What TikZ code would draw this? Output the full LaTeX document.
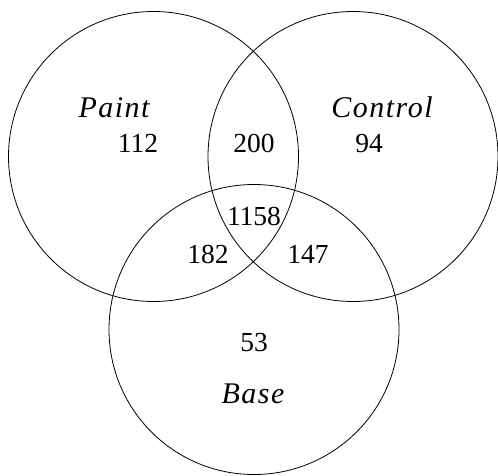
\documentclass[tikz,border=0pt]{standalone}
\usepackage{fontspec}
\setmainfont{Liberation Serif}
\newfontfamily\setlabelfont[LetterSpace=5]{Liberation Serif Italic}
\begin{document}
\begin{tikzpicture}[x=1pt,y=-1pt,
  setcircle/.style={draw=black,line width=0.8pt},
  count/.style={font=\fontsize{27.5}{31}\selectfont,anchor=base,inner sep=0pt},
  setname/.style={font=\fontsize{30}{34}\selectfont\setlabelfont,anchor=base,inner sep=0pt}]
\useasboundingbox (0,0) rectangle (498,475);
% three sets
\draw[setcircle] (153.5,156.5) circle[radius=145];
\draw[setcircle] (353,156.5) circle[radius=145];
\draw[setcircle] (254,329.5) circle[radius=145];
% set names
\node[setname] (paint) at (114,117.5) {Paint};
\node[setname] (control) at (382,117.5) {Control};
\node[setname] (base) at (253,403) {Base};
% region counts
\node[count] (pOnly) at (138,152) {112};
\node[count] (pc) at (254,152) {200};
\node[count] (cOnly) at (369,152) {94};
\node[count] (pcb) at (254,225) {1158};
\node[count] (pb) at (208,263) {182};
\node[count] (cb) at (308,263) {147};
\node[count] (bOnly) at (254,351) {53};
\end{tikzpicture}
\end{document}
